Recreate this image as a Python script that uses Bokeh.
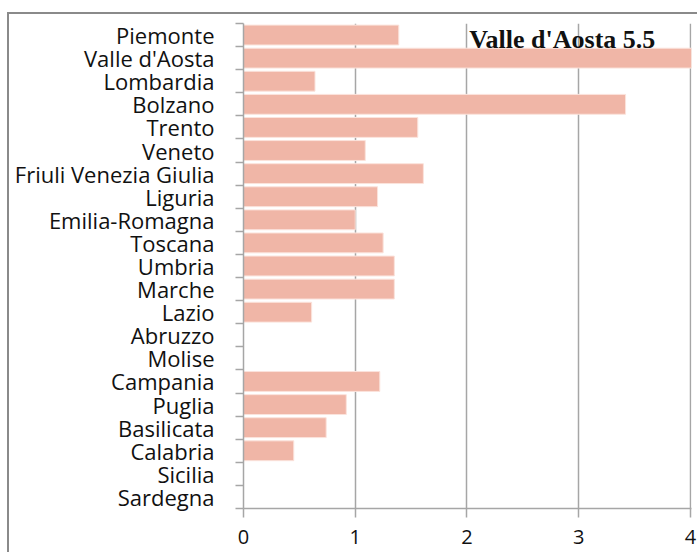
from bokeh.plotting import figure
from bokeh.models import FixedTicker, Label, ColumnDataSource, Range1d
from bokeh.embed import file_html
from bokeh.resources import INLINE

regions = ["Piemonte", "Valle d'Aosta", "Lombardia", "Bolzano", "Trento", "Veneto",
           "Friuli Venezia Giulia", "Liguria", "Emilia-Romagna", "Toscana", "Umbria",
           "Marche", "Lazio", "Abruzzo", "Molise", "Campania", "Puglia", "Basilicata",
           "Calabria", "Sicilia", "Sardegna"]
values = [1.39, 5.5, 0.64, 3.42, 1.56, 1.09, 1.61, 1.20, 1.00, 1.25, 1.35,
          1.35, 0.61, 0, 0, 1.22, 0.92, 0.74, 0.45, 0, 0]
x_ticks = [0, 1, 2, 3, 4]
annotation_text = "Valle d'Aosta 5.5"

n = len(regions)
ypos = [n - 0.5 - i for i in range(n)]
src = ColumnDataSource(dict(y=ypos, right=values, region=regions))

p = figure(width=690, height=540, x_range=Range1d(0, 4.01), y_range=Range1d(0, n),
           output_backend="svg", toolbar_location=None,
           min_border_left=234, min_border_right=8, min_border_top=9, min_border_bottom=46)
p.styles = {"border-top": "2px solid #8a8a8a", "border-left": "2px solid #8a8a8a",
            "margin-top": "12px", "margin-left": "7px"}
p.outline_line_color = None
p.background_fill_color = "white"

p.hbar(y="y", left=0, right="right", height=0.86, source=src,
       fill_color="#F0B6A7", line_color="#FBE3DC", line_width=1)

# x axis
p.xaxis.ticker = FixedTicker(ticks=x_ticks)
p.xaxis.axis_line_color = "#A6A6A6"
p.xaxis.axis_line_width = 1.5
p.xaxis.major_tick_line_color = "#A6A6A6"
p.xaxis.major_tick_line_width = 1.5
p.xaxis.major_tick_out = 9
p.xaxis.major_tick_in = 0
p.xaxis.minor_tick_line_color = None
p.xaxis.major_label_text_font = "Open Sans"
p.xaxis.major_label_text_font_size = "20px"
p.xaxis.major_label_text_color = "#111111"
p.xaxis.major_label_standoff = 12

# y axis: labels at centers, ticks at boundaries
p.yaxis.ticker = FixedTicker(ticks=ypos, minor_ticks=list(range(n + 1)))
p.yaxis.major_label_overrides = {y: r for y, r in zip(ypos, regions)}
p.yaxis.major_tick_out = 0
p.yaxis.major_tick_in = 0
p.yaxis.minor_tick_out = 8
p.yaxis.minor_tick_in = 0
p.yaxis.minor_tick_line_color = "#A6A6A6"
p.yaxis.minor_tick_line_width = 1.5
p.yaxis.axis_line_color = "#A6A6A6"
p.yaxis.axis_line_width = 1.5
p.yaxis.major_label_text_font = "Open Sans"
p.yaxis.major_label_text_font_size = "22px"
p.yaxis.major_label_text_color = "#111111"
p.yaxis.major_label_standoff = 21

p.xgrid.ticker = FixedTicker(ticks=x_ticks)
p.xgrid.grid_line_color = "#A6A6A6"
p.xgrid.grid_line_width = 1.5
p.ygrid.grid_line_color = None

lab = Label(x=2.02, y=20.3, text=annotation_text, text_font="Liberation Serif",
            text_font_style="bold", text_font_size="26px", text_color="#111111",
            text_baseline="alphabetic")
p.add_layout(lab)

open("out.html", "w").write(file_html(p, INLINE))
